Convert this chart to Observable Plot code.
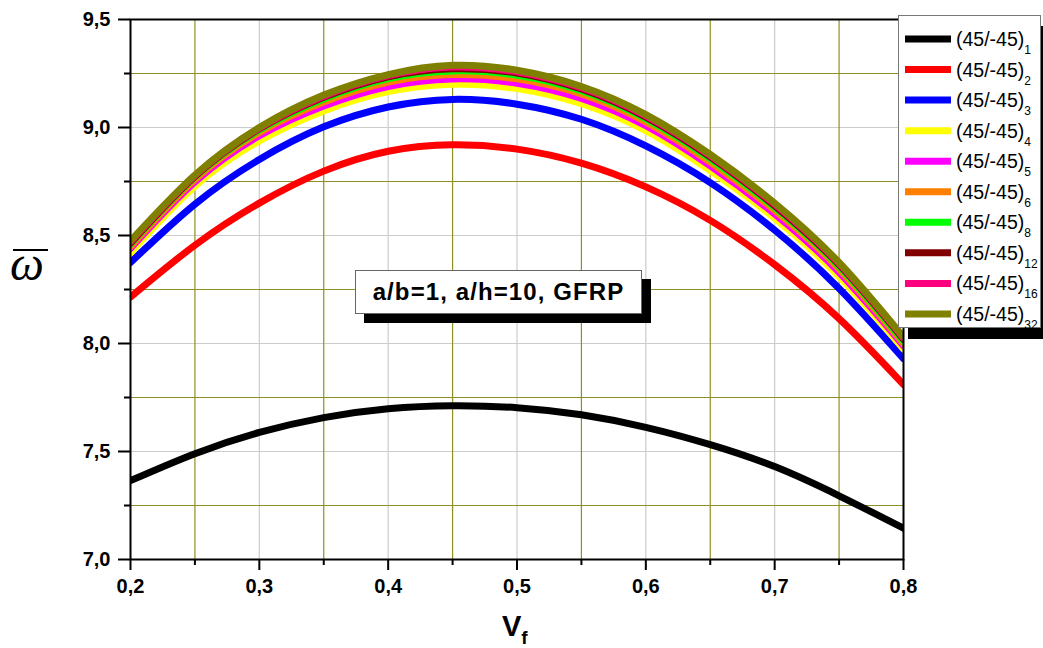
<!DOCTYPE html>
<html><head><meta charset="utf-8">
<script src="https://cdn.jsdelivr.net/npm/d3@7"></script>
<script src="https://cdn.jsdelivr.net/npm/@observablehq/plot@0.6"></script>
<style>
body{margin:0;background:#fff;}
#wrap{position:relative;width:1043px;height:648px;overflow:hidden;font-family:Arial,"Liberation Sans",sans-serif;background:#fff;}
#chart svg{display:block;}
#legend{position:absolute;left:898px;top:15px;width:141px;height:311px;border:1px solid #777;background:#fff;box-shadow:10px 11px 0 #000;}
#legend svg{display:block;overflow:visible;}
#note{position:absolute;left:355px;top:270px;width:285px;height:42px;border:1px solid #666;background:#fff;box-shadow:9px 9px 0 #000;
  font:bold 24px Arial,"Liberation Sans",sans-serif;text-align:center;line-height:42px;letter-spacing:1.1px;white-space:nowrap;}
#ylab{position:absolute;left:10px;top:240px;font:italic 48px "Liberation Serif","Times New Roman",serif;line-height:48px;}
#ybar{position:absolute;left:13px;top:249px;width:35px;height:0;border-top:2px solid #000;}
#xlab{position:absolute;left:502px;top:612px;font:bold 29px Arial,"Liberation Sans",sans-serif;line-height:28px;white-space:nowrap;}
#xlab span{font-size:19px;position:relative;top:8px;}
</style></head><body>
<div id="wrap"><div id="chart"></div><div id="legend"></div><div id="note">a/b=1, a/h=10, GFRP</div>
<div id="ylab">ω</div><div id="ybar"></div><div id="xlab">V<span>f</span></div></div>
<script>
const vf = [0.2,0.25,0.3,0.35,0.4,0.45,0.5,0.55,0.6,0.65,0.7,0.75,0.8];
const seriesIdx = ["1","2","3","4","5","6","8","12","16","32"];
const colors = ["#000000","#ff0000","#0000ff","#ffff00","#ff00ff","#ff8000","#00ff00","#800000","#ff0080","#808000"];
const s1  = [7.365,7.49,7.588,7.657,7.698,7.712,7.703,7.67,7.612,7.532,7.43,7.295,7.145];
const s2  = [8.215,8.455,8.65,8.798,8.89,8.92,8.90,8.835,8.725,8.57,8.365,8.115,7.81];
const s3  = [8.375,8.645,8.852,9.003,9.095,9.13,9.108,9.038,8.915,8.745,8.525,8.255,7.93];
const s4  = [8.42,8.728,8.938,9.077,9.166,9.20,9.18,9.11,8.985,8.80,8.58,8.31,7.975];
const s5  = [8.44,8.748,8.962,9.10,9.19,9.225,9.205,9.135,9.008,8.822,8.60,8.33,7.99];
const s6  = [8.45,8.76,8.977,9.118,9.21,9.245,9.225,9.155,9.026,8.84,8.617,8.345,8.0];
const s8  = [8.46,8.77,8.988,9.132,9.226,9.262,9.242,9.17,9.04,8.855,8.63,8.357,8.01];
const s12 = [8.465,8.774,8.994,9.14,9.235,9.272,9.252,9.178,9.048,8.864,8.638,8.365,8.02];
const s16 = [8.47,8.777,8.997,9.145,9.24,9.28,9.258,9.184,9.054,8.87,8.644,8.37,8.025];
const s32 = [8.475,8.78,9.0,9.15,9.245,9.288,9.265,9.19,9.06,8.875,8.65,8.375,8.03];
const values = [s1,s2,s3,s4,s5,s6,s8,s12,s16,s32];
const xMajor = [0.2,0.3,0.4,0.5,0.6,0.7,0.8];
const xMinor = [0.25,0.35,0.45,0.55,0.65,0.75];
const yMajor = [7.0,7.5,8.0,8.5,9.0,9.5];
const yMinor = [7.25,7.75,8.25,8.75,9.25];

const rows = values.flatMap((arr, i) => arr.map((w, j) => ({s: seriesIdx[i], vf: vf[j], w})));
const fmt = d => d.toFixed(1).replace(".", ",");

const chart = Plot.plot({
  width: 1043, height: 648,
  marginLeft: 130, marginRight: 140, marginTop: 19, marginBottom: 89,
  x: {domain: [0.2, 0.8]},
  y: {domain: [7, 9.5]},
  color: {type: "ordinal", domain: seriesIdx, range: colors},
  style: {fontFamily: "Arial, 'Liberation Sans', sans-serif", fontSize: "20px", fontWeight: "bold", color: "#000", background: "#fff"},
  marks: [
    Plot.gridX(xMajor, {stroke: "#cccccc", strokeOpacity: 1, strokeWidth: 1.2}),
    Plot.gridY(yMajor, {stroke: "#cccccc", strokeOpacity: 1, strokeWidth: 1.2}),
    Plot.gridX(xMinor, {stroke: "#8f8f22", strokeOpacity: 1, strokeWidth: 1.2}),
    Plot.gridY(yMinor, {stroke: "#8f8f22", strokeOpacity: 1, strokeWidth: 1.2}),
    Plot.line(rows, {x: "vf", y: "w", z: "s", stroke: "s", strokeWidth: 7, curve: "natural", clip: true}),
    Plot.axisY(yMajor, {tickSize: 12, tickPadding: 8, strokeWidth: 2, tickFormat: fmt, label: null, fontSize: 20, fontWeight: "bold"}),
    Plot.axisY(yMinor, {tickSize: 6, strokeWidth: 2, tickFormat: () => "", label: null}),
    Plot.axisX(xMajor, {tickSize: 11, tickPadding: 8, strokeWidth: 2, tickFormat: fmt, label: null, fontSize: 20, fontWeight: "bold"}),
    Plot.axisX(xMinor, {tickSize: 6, strokeWidth: 2, tickFormat: () => "", label: null}),
    Plot.frame({stroke: "#000", strokeWidth: 2})
  ]
});
document.getElementById("chart").appendChild(chart);

// legend
const lg = d3.select("#legend").append("svg").attr("width", 141).attr("height", 311);
const row = lg.selectAll("g").data(seriesIdx).join("g")
  .attr("transform", (d, i) => `translate(0,${23 + i * 30.55})`);
row.append("line").attr("x1", 6).attr("x2", 52).attr("y1", 0).attr("y2", 0)
  .attr("stroke", (d, i) => colors[i]).attr("stroke-width", 7);
const tx = row.append("text").attr("x", 57).attr("y", 7)
  .attr("font-family", "Arial, 'Liberation Sans', sans-serif").attr("font-size", 19.5).attr("fill", "#000");
tx.append("tspan").text("(45/-45)");
tx.append("tspan").attr("dy", 8).attr("font-size", 12).text(d => d);
</script>
</body></html>
